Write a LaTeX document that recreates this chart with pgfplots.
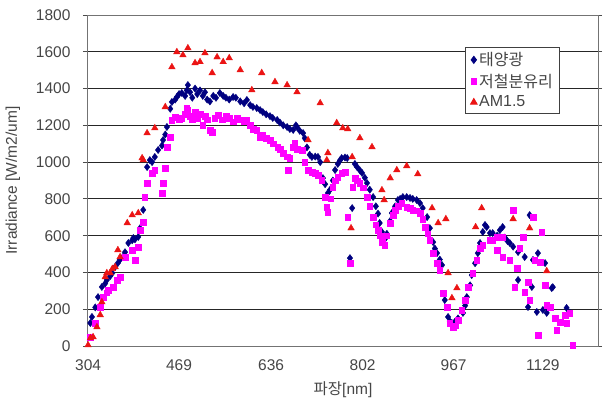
\documentclass[border=0pt]{standalone}
\usepackage{fontspec}
\setmainfont{Liberation Sans}
\newfontfamily\kr{Noto Sans CJK KR}
\usepackage{pgfplots}
\pgfplotsset{compat=1.18}
\definecolor{snavy}{RGB}{0,0,128}
\definecolor{smag}{RGB}{255,0,255}
\definecolor{sred}{RGB}{235,20,20}
\definecolor{txt}{RGB}{70,70,70}
\begin{document}
\begin{tikzpicture}
\path[use as bounding box] (-87bp,-56bp) rectangle (518bp,346bp);
\begin{axis}[
  at={(0,0)}, anchor=south west,
  scale only axis, width=511bp, height=331bp,
  xmin=302, xmax=1229, ymin=0, ymax=1800,
  xtick={304,469,636,802,967,1129},
  ytick={0,200,...,1800},
  /pgf/number format/assume math mode=true,
  /pgf/number format/1000 sep={},
  ymajorgrids,
  grid style={black!85, line width=0.8bp},
  axis line style={black!55, line width=0.8bp},
  tick align=outside,
  major tick length=4bp,
  xtick style={draw=none},
  ytick style={black!70, line width=0.8bp},
  tick label style={font=\fontsize{15.5bp}{18bp}\selectfont, text=txt},
  yticklabel style={xshift=-9bp},
  xticklabel style={yshift=-6bp},
  xlabel={{\kr 파장}[nm]},
  ylabel={Irradiance [W/m2/um]},
  label style={font=\fontsize{15.5bp}{18bp}\selectfont, text=txt},
  xlabel style={at={(axis description cs:0.501,-0.133)}, anchor=center},
  ylabel style={at={(axis description cs:-0.145,0.5)}, anchor=center},
  legend style={at={(0.740,0.903)}, anchor=north west, draw=black!75, line width=0.8bp,
     font=\fontsize{16bp}{18bp}\selectfont, inner xsep=5bp, inner ysep=3bp, row sep=3bp, text=txt},
  legend cell align=left,
  legend image code/.code={\draw[mark repeat=2,mark phase=2] plot coordinates {(0cm,0cm) (0.12cm,0cm) (0.24cm,0cm)};},
]
\addplot[only marks, mark=diamond*, mark size=3.6bp, color=snavy] coordinates {
(308,125)(311,158)(317,210)(322,266)(329,321)(335,340)(338,359)(344,380)(348,397)(353,430)
(358,451)(362,470)(367,484)(371,510)(377,560)(384,575)(386,587)(389,580)(395,593)(398,640)
(404,740)(411,973)(416,1011)(420,1000)(425,1028)(431,1066)(438,1090)(440,1120)(444,1150)(447,1191)
(453,1290)(456,1327)(462,1340)(465,1354)(469,1370)(474,1376)(480,1360)(483,1390)(485,1419)(489,1380)
(493,1350)(498,1400)(502,1370)(507,1390)(512,1360)(516,1380)(520,1340)(525,1330)(531,1360)(536,1350)
(543,1376)(549,1360)(554,1350)(560,1340)(567,1354)(572,1350)(580,1330)(587,1320)(592,1338)(598,1310)
(603,1300)(610,1294)(616,1283)(621,1272)(627,1260)(634,1250)(639,1240)(647,1229)(652,1215)(658,1200)
(665,1191)(670,1180)(676,1175)(681,1200)(683,1190)(688,1170)(694,1158)(697,1130)(701,1080)(706,1040)
(710,1028)(716,1030)(721,1028)(725,1000)(730,913)(734,880)(739,832)(743,850)(748,900)(752,957)
(757,990)(761,1010)(764,1022)(770,1025)(774,1022)(779,478)(783,750)(788,990)(792,973)(797,955)
(801,941)(806,915)(810,886)(815,850)(821,810)(826,760)(830,720)(833,669)(837,620)(839,593)
(842,580)(846,610)(852,680)(855,723)(861,760)(866,794)(870,800)(875,810)(882,810)(888,805)
(893,800)(900,794)(906,777)(911,750)(919,701)(924,641)(930,565)(933,530)(937,505)(942,470)
(946,440)(951,250)(957,158)(960,135)(964,125)(969,130)(975,150)(984,180)(988,220)(991,266)
(997,330)(1000,386)(1006,450)(1011,505)(1015,560)(1020,620)(1024,658)(1027,647)(1033,614)(1038,614)
(1046,600)(1051,630)(1056,647)(1060,590)(1065,570)(1069,560)(1075,540)(1084,511)(1096,484)(1084,359)
(1102,212)(1105,712)(1109,321)(1111,468)(1118,185)(1120,505)(1129,196)(1133,451)(1136,180)(1145,315)
(1147,320)(1172,207)(1178,180)
};
\addlegendentry{{\kr 태양광}}
\addplot[only marks, mark=square*, mark size=2.8bp, color=smag] coordinates {
(308,49)(317,125)(326,212)(331,266)(338,290)(340,304)(349,321)(357,359)(362,375)(371,484)
(384,522)(389,468)(395,538)(398,631)(404,674)(407,810)(411,886)(420,941)(425,957)(438,832)
(440,886)(444,968)(447,1082)(453,1137)(456,1229)(462,1245)(469,1230)(474,1240)(480,1260)(485,1283)
(483,1294)(489,1250)(493,1230)(498,1270)(502,1240)(507,1260)(512,1200)(516,1250)(520,1230)(525,1175)
(529,1164)(534,1240)(540,1256)(547,1230)(554,1250)(560,1240)(567,1220)(574,1240)(580,1230)(587,1220)
(592,1229)(598,1200)(603,1180)(610,1175)(616,1137)(621,1150)(627,1130)(634,1120)(640,1100)(648,1082)
(652,1070)(658,1050)(665,1030)(667,957)(670,1022)(676,1082)(679,1104)(683,1070)(692,1066)(697,1000)
(703,957)(710,945)(716,941)(721,930)(728,903)(734,810)(737,756)(739,729)(744,800)(748,865)
(752,900)(757,919)(764,940)(770,946)(775,701)(779,451)(784,865)(788,913)(792,900)(797,886)
(803,860)(810,810)(815,760)(821,701)(826,660)(830,631)(834,600)(837,565)(842,549)(846,600)
(852,669)(857,710)(861,740)(866,760)(873,777)(882,756)(888,750)(893,740)(900,735)(906,723)
(911,690)(915,647)(920,610)(924,576)(930,505)(937,451)(942,413)(948,288)(955,212)(960,125)
(966,103)(970,110)(975,141)(982,196)(988,250)(993,321)(1002,397)(1009,468)(1015,533)(1020,549)
(1033,576)(1038,576)(1046,593)(1046,522)(1056,593)(1056,484)(1069,468)(1075,740)(1078,321)(1082,424)
(1087,533)(1093,593)(1096,294)(1102,348)(1105,250)(1111,701)(1114,468)(1120,60)(1124,457)(1127,620)
(1133,332)(1136,223)(1142,212)(1151,152)(1154,87)(1160,130)(1169,169)(1172,125)(1178,180)(1183,5)
};
\addlegendentry{{\kr 저철분유리}}
\addplot[only marks, mark=triangle*, mark size=3.8bp, color=sred] coordinates {
(304,5)(308,43)(313,49)(320,103)(326,169)(329,239)(335,375)(338,397)(344,397)(348,420)
(353,430)(358,522)(362,484)(375,669)(384,712)(395,723)(402,1022)(404,1011)(411,1158)(425,1185)
(444,1300)(456,1517)(465,1599)(476,1582)(485,1620)(498,1539)(507,1545)(516,1593)(529,1485)(538,1571)
(549,1545)(560,1566)(580,1501)(601,1392)(619,1485)(643,1436)(665,1419)(683,1381)(725,1321)(703,1120)
(739,1050)(737,1011)(755,1213)(766,1185)(775,1180)(783,1028)(781,641)(797,1131)(819,1082)(837,848)
(841,794)(852,913)(864,957)(882,979)(902,935)(928,750)(939,669)(953,691)(957,397)(964,261)
(973,315)(1007,647)(1018,750)(1075,691)(1105,641)(1136,408)
};
\addlegendentry{AM1.5}
\end{axis}
\end{tikzpicture}
\end{document}
